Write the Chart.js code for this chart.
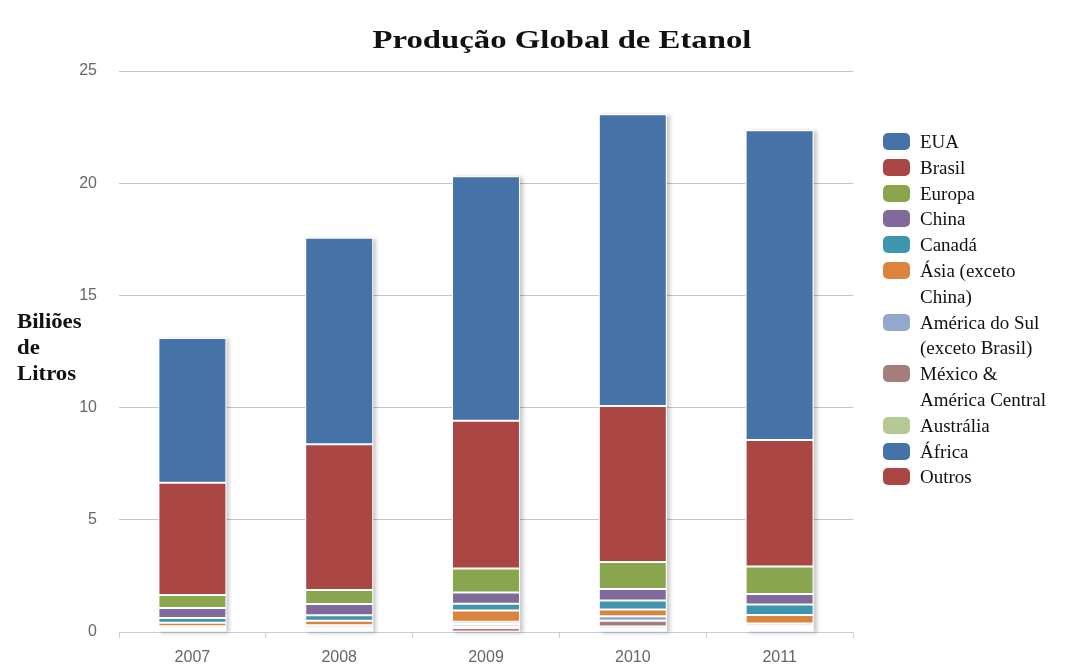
<!DOCTYPE html>
<html lang="pt">
<head>
<meta charset="utf-8">
<title>Produção Global de Etanol</title>
<script src="https://cdn.jsdelivr.net/npm/chart.js@4.4.1/dist/chart.umd.min.js"></script>
<style>
  html, body { margin: 0; padding: 0; background: #fff; }
  #painel { position: relative; width: 1078px; height: 668px; overflow: hidden; background: #fff; }
  #grafico { position: absolute; left: 0; top: 0; }
  #titulo {
    position: absolute; left: 262px; top: 25px; width: 600px;
    font: bold 26px "Liberation Serif", "Times New Roman", serif; color: #111;
    text-align: center; line-height: 30px;
    transform: scaleX(1.26); transform-origin: center;
  }
  #eixo-y {
    position: absolute; left: 17px; top: 308px;
    font: bold 20px "Liberation Serif", "Times New Roman", serif; color: #111;
    line-height: 26px;
    transform: scaleX(1.14); transform-origin: left;
  }
  #legenda {
    position: absolute; left: 883px; top: 129px; width: 190px;
    font: 19px "Liberation Serif", "Times New Roman", serif; color: #111;
    line-height: 25.8px;
  }
  .item { display: flex; align-items: flex-start; }
  .caixa { width: 27px; height: 17px; border-radius: 5px; margin-top: 4px; margin-right: 10px; flex: none; }
</style>
</head>
<body>
<div id="painel">
  <canvas id="grafico" width="1078" height="668"></canvas>
  <div id="titulo">Produção Global de Etanol</div>
  <div id="eixo-y">Biliões<br>de<br>Litros</div>
  <div id="legenda"></div>
</div>
<script>
// anos e valores (biliões de litros) por região
const anos = ['2007', '2008', '2009', '2010', '2011'];
const ticksY = [0, 5, 10, 15, 20, 25];

const eua        = [6.45, 9.2, 10.9, 13.0, 13.8];
const brasil     = [5.0, 6.5, 6.58, 6.95, 5.64];
const europa     = [0.58, 0.62, 1.07, 1.2, 1.23];
const china      = [0.45, 0.5, 0.5, 0.52, 0.47];
const canada     = [0.21, 0.25, 0.3, 0.4, 0.46];
const asia       = [0.15, 0.2, 0.5, 0.3, 0.38];
const americaSul = [0.08, 0.1, 0.1, 0.2, 0.1];
const mexico     = [0.06, 0.07, 0.1, 0.25, 0.06];
const australia  = [0.03, 0.03, 0.06, 0.1, 0.08];
const africa     = [0.02, 0.02, 0.03, 0.05, 0.04];
const outros     = [0.07, 0.08, 0.17, 0.1, 0.1];

const nomes = ['EUA', 'Brasil', 'Europa', 'China', 'Canadá', 'Ásia (exceto China)',
  'América do Sul (exceto Brasil)', 'México & América Central', 'Austrália', 'África', 'Outros'];
const linhasLegenda = [['EUA'], ['Brasil'], ['Europa'], ['China'], ['Canadá'],
  ['Ásia (exceto', 'China)'], ['América do Sul', '(exceto Brasil)'],
  ['México &', 'América Central'], ['Austrália'], ['África'], ['Outros']];
const cores = ['#4572A7', '#AA4643', '#89A54E', '#80699B', '#3D96AE', '#DB843D',
  '#92A8CD', '#A47D7C', '#B5CA92', '#4572A7', '#AA4643'];

const series = [eua, brasil, europa, china, canada, asia, americaSul, mexico, australia, africa, outros];

// empilhamento de baixo para cima: Outros primeiro, EUA no topo
const datasets = series.map((valores, i) => ({
  label: nomes[i],
  data: valores,
  backgroundColor: cores[i],
  borderColor: '#ffffff',
  borderWidth: 1,
  borderSkipped: false
})).reverse();

// sombra leve por trás de cada coluna
const sombraColunas = {
  id: 'sombraColunas',
  beforeDatasetsDraw(chart) {
    const { ctx } = chart;
    const n = chart.data.datasets.length;
    const baseMeta = chart.getDatasetMeta(0);
    const topoMeta = chart.getDatasetMeta(n - 1);
    ctx.save();
    ctx.shadowColor = 'rgba(0, 0, 0, 0.22)';
    ctx.shadowBlur = 4;
    ctx.shadowOffsetX = 3;
    ctx.shadowOffsetY = 1;
    ctx.fillStyle = '#ffffff';
    anos.forEach((_, j) => {
      const b = baseMeta.data[j];
      const t = topoMeta.data[j];
      ctx.fillRect(b.x - b.width / 2, t.y, b.width, b.base - t.y);
    });
    ctx.restore();
  }
};

const fonteEixo = { family: '"Liberation Sans", Arial, sans-serif', size: 16 };

new Chart(document.getElementById('grafico'), {
  type: 'bar',
  data: { labels: anos, datasets },
  options: {
    responsive: false,
    animation: false,
    layout: { padding: { left: 0, right: 225, top: 71, bottom: 0 } },
    datasets: { bar: { categoryPercentage: 1, barPercentage: 0.463 } },
    plugins: {
      legend: { display: false },
      title: { display: false },
      tooltip: { enabled: false }
    },
    scales: {
      x: {
        stacked: true,
        afterFit: scale => { scale.height = 36; },
        grid: { drawOnChartArea: false, drawTicks: true, tickLength: 6, color: '#C0D0E0', offset: true },
        border: { display: true, color: '#C0D0E0', width: 1 },
        ticks: { padding: 10, color: '#666', font: fonteEixo }
      },
      y: {
        stacked: true,
        min: 0,
        max: 25,
        afterFit: scale => { scale.width = 119; },
        afterBuildTicks: axis => { axis.ticks = ticksY.map(v => ({ value: v })); },
        grid: { color: '#C4C4C4', lineWidth: 1, drawTicks: false },
        border: { display: false },
        ticks: { padding: 22, color: '#666', font: fonteEixo }
      }
    }
  },
  plugins: [sombraColunas]
});

// legenda à direita, na ordem das regiões
const legenda = document.getElementById('legenda');
linhasLegenda.forEach((linhas, i) => {
  const item = document.createElement('div');
  item.className = 'item';
  const caixa = document.createElement('span');
  caixa.className = 'caixa';
  caixa.style.background = cores[i];
  const texto = document.createElement('span');
  texto.innerHTML = linhas.join('<br>');
  item.appendChild(caixa);
  item.appendChild(texto);
  legenda.appendChild(item);
});
</script>
</body>
</html>
